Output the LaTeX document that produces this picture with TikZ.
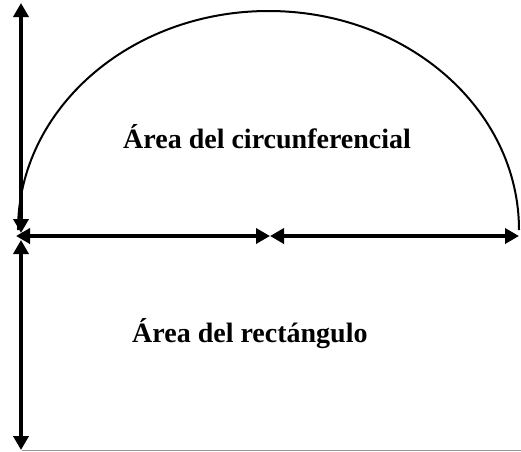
\documentclass[tikz,border=0pt]{standalone}
\usepackage{fontspec}
\setmainfont{Liberation Serif}
\usetikzlibrary{arrows.meta}

\begin{document}
\begin{tikzpicture}[x=1pt, y=-1pt, >={Triangle[length=14pt,width=15pt]},
  every node/.style={font=\bfseries\fontsize{28}{30}\selectfont, inner sep=0pt},
  dim/.style={line width=3.5pt, <->}]
\useasboundingbox (0,0) rectangle (521,451);
% puntos
\coordinate (upTop) at (21,3);
\coordinate (upBot) at (21,233);
\coordinate (left) at (16,236);
\coordinate (mid) at (270,236);
\coordinate (right) at (519,236);
\coordinate (lowTop) at (21,240);
\coordinate (lowBot) at (21,450);
% semicircunferencia
\draw[line width=2pt] (18,230) arc[start angle=180, end angle=0, x radius=250.5pt, y radius=219pt];
% flechas
\draw[dim] (upBot) -- (upTop);
\draw[dim] (left) -- (mid);
\draw[dim] (mid) -- (right);
\draw[dim] (lowTop) -- (lowBot);
\draw[gray!80, line width=0.8pt] (22,450) -- (521,450);
% textos
\node[anchor=base west] (circ) at (123,148) {Área del circunferencial};
\node[anchor=base west] (rect) at (132,342) {Área del rectángulo};
\end{tikzpicture}
\end{document}
